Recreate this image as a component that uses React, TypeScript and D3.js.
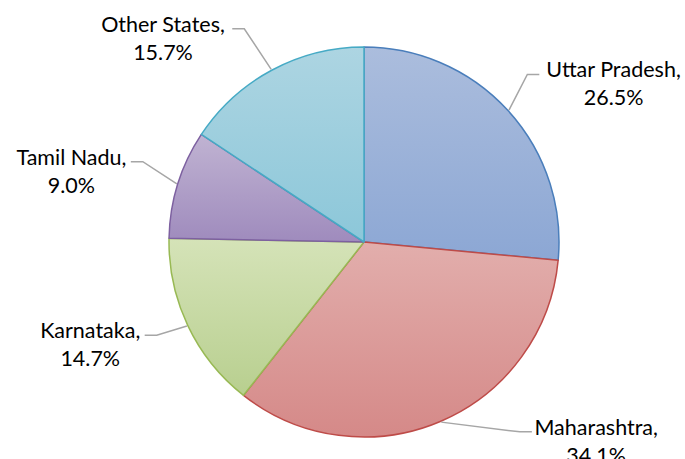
import React from 'react';
import * as d3 from 'd3';

const states = ['Uttar Pradesh', 'Maharashtra', 'Karnataka', 'Tamil Nadu', 'Other States'];
const shares = [26.5, 34.1, 14.7, 9.0, 15.7];
const shareLabels = ['26.5%', '34.1%', '14.7%', '9.0%', '15.7%'];

const topColors = ['#abbddd', '#e2aeac', '#d5e3b8', '#c0b3d2', '#add5e2'];
const bottomColors = ['#8ca7d4', '#d58988', '#b8cf8f', '#9f8bbd', '#8cc7d9'];
const strokes = ['#4a7ebb', '#be4b48', '#98b954', '#7d60a0', '#46aac5'];
// where Excel ended up putting each label: angle shift from slice middle (deg) and distance from centre
const labelNudge = [10.7, -25.5, 4, -4.5, -17];
const labelDist = [293, 309, 294, 300, 283];

export default function App() {
  const width = 685;
  const height = 459;
  const cx = 364;
  const cy = 242;
  const r = 195;
  const fs = 21.5;

  const pie = d3.pie<number>().sort(null).value(d => d);
  const arcs = pie(shares);
  const arc = d3.arc<d3.PieArcDatum<number>>().innerRadius(0).outerRadius(r);

  const polar = (angle: number, rad: number) => [Math.sin(angle) * rad, -Math.cos(angle) * rad];

  return (
    <svg width={width} height={height} style={{ position: 'absolute', left: 0, top: 0 }}>
      <defs>
        {states.map((s, i) => (
          <linearGradient key={s} id={'g' + i} x1="0" y1="0" x2="0" y2="1">
            <stop offset="0" stopColor={topColors[i]} />
            <stop offset="1" stopColor={bottomColors[i]} />
          </linearGradient>
        ))}
      </defs>
      <g transform={`translate(${cx},${cy})`}>
        {arcs.map((a, i) => (
          <path key={states[i]} d={arc(a) || ''} fill={`url(#g${i})`} stroke={strokes[i]} strokeWidth={1.5} strokeLinejoin="round" />
        ))}
        {arcs.map((a, i) => {
          const mid = (a.startAngle + a.endAngle) / 2;
          const [ex, ey] = polar(mid, r + 1);
          const la = mid + (labelNudge[i] * Math.PI) / 180;
          const [lx, ly] = polar(la, labelDist[i]);
          const right = lx > 0;
          const first = `${states[i]},`;
          const w = first.length * fs * 0.46;
          const hx = right ? lx - w / 2 - 5 : lx + w / 2 + 5;
          const hy = ly - 14;
          const bx = right ? hx - 12 : hx + 12;
          return (
            <g key={'l' + i}>
              <polyline points={`${ex},${ey} ${bx},${hy} ${hx},${hy}`} fill="none" stroke="#a6a6a6" strokeWidth={1.5} />
              <text x={lx} y={ly - 11} textAnchor="middle" fontFamily="Lato, 'Open Sans', sans-serif" fontSize={fs} fill="#000">
                {first}
              </text>
              <text x={lx} y={ly + 17} textAnchor="middle" fontFamily="Lato, 'Open Sans', sans-serif" fontSize={fs} fill="#000">
                {shareLabels[i]}
              </text>
            </g>
          );
        })}
      </g>
    </svg>
  );
}
